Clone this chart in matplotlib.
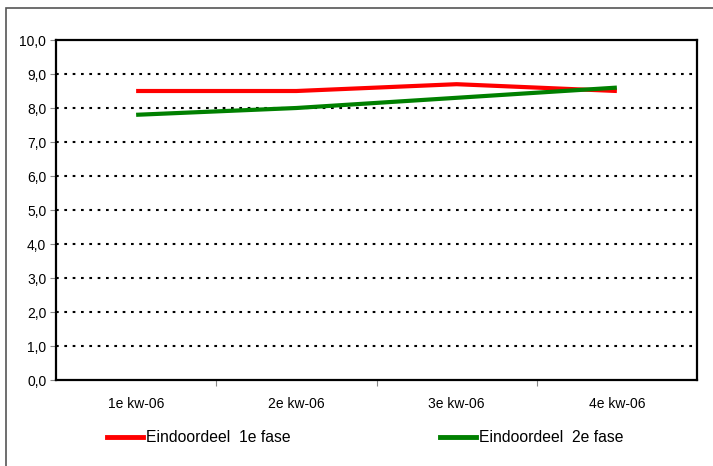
import matplotlib
matplotlib.use("Agg")
import matplotlib.pyplot as plt
from matplotlib.patches import Rectangle
from matplotlib.lines import Line2D

categories = ["1e kw-06", "2e kw-06", "3e kw-06", "4e kw-06"]
fase1 = [8.5, 8.5, 8.7, 8.5]
fase2 = [7.8, 8.0, 8.3, 8.6]
yticks = [0, 1, 2, 3, 4, 5, 6, 7, 8, 9, 10]

plt.rcParams['font.family'] = ['Liberation Sans', 'DejaVu Sans']

W, H = 713, 466
fig = plt.figure(figsize=(W/100, H/100), dpi=100)
fig.patches.append(Rectangle((6/W, -0.2), 1.2, 0.2 + (H-8)/H, transform=fig.transFigure,
                             fill=False, edgecolor='#555555', linewidth=1.2))

ax = fig.add_axes([56/W, 1-380/H, (697-56)/W, (380-40)/H])
x = list(range(len(categories)))
ax.set_xlim(-0.5, len(categories)-0.5)
ax.set_ylim(0, 10)
for v in yticks[1:-1]:
    ax.axhline(v, color='black', linestyle=(0, (1.3, 2.7)), linewidth=1.5, zorder=1)
ax.plot(x, fase1, color='#ff0000', linewidth=3, zorder=3, solid_capstyle='butt')
ax.plot(x, fase2, color='#008000', linewidth=3, zorder=3, solid_capstyle='butt')

ylabels = [f"{v:.1f}".replace('.', ',') for v in yticks]
ax.set_yticks(yticks)
ax.set_yticklabels(ylabels, fontsize=10)
ax.set_xticks([i + 0.5 for i in x[:-1]], minor=False)
ax.set_xticklabels([])
ax.set_xticks(x, minor=True)
ax.set_xticklabels(categories, minor=True, fontsize=10)
ax.tick_params(axis='x', which='minor', length=0, pad=12)
ax.tick_params(axis='x', which='major', length=4, color='#888888')
ax.tick_params(axis='y', length=4, color='#888888', pad=3)
for s in ax.spines.values():
    s.set_linewidth(1.6)
    s.set_color('black')

handles = [Line2D([], [], color='#ff0000', linewidth=3.5),
           Line2D([], [], color='#008000', linewidth=3.5)]
fig.legend(handles[:1], ["Eindoordeel  1e fase"], loc='center left',
           bbox_to_anchor=(93/W, 1-438/H), frameon=False, fontsize=11.3,
           handlelength=2.3, handletextpad=0.15)
fig.legend(handles[1:], ["Eindoordeel  2e fase"], loc='center left',
           bbox_to_anchor=(426/W, 1-438/H), frameon=False, fontsize=11.3,
           handlelength=2.3, handletextpad=0.15)

fig.savefig("out.png", dpi=100)
